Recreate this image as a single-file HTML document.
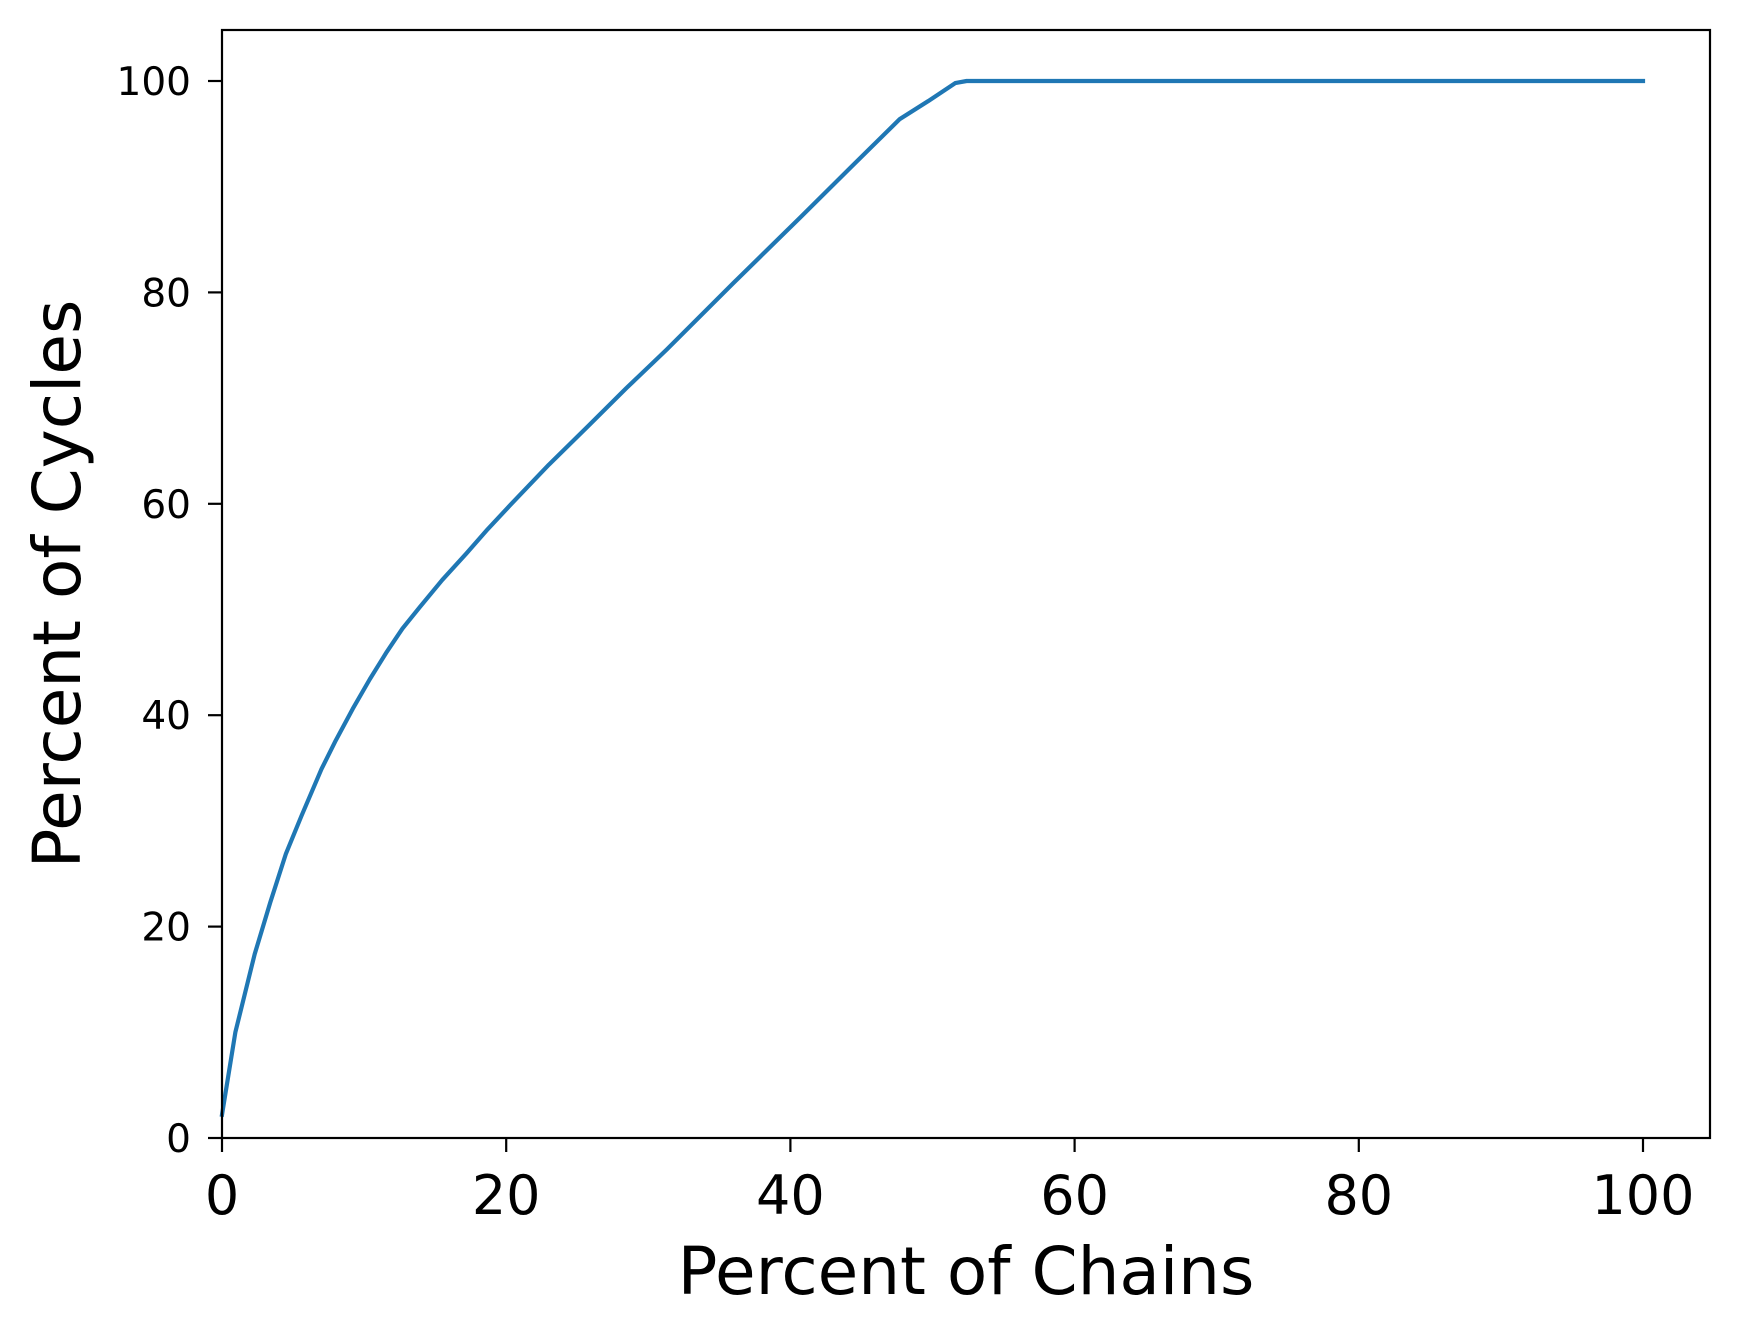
<!DOCTYPE html>
<html><head><meta charset="utf-8"><style>body{margin:0;background:#fff}svg{display:block}</style></head>
<body>
<svg id="chart" width="1739" height="1337" xmlns="http://www.w3.org/2000/svg" font-family="'DejaVu Sans','Liberation Sans',sans-serif">
<rect width="1739" height="1337" fill="#fff"/>
<g id="axes"></g>
</svg>
<script>
const xValues=[0,0.94,2.3,3.4,4.5,5.6,7,8,9.2,10.4,11.6,12.7,13.9,15.5,17.2,18.7,20.3,23,25.8,28.5,31.3,36,40.7,44.3,47.7,49.7,51.6,52.4,100];
const yValues=[2.2,10,17.4,22.3,26.9,30.5,34.9,37.6,40.6,43.4,46.0,48.2,50.2,52.8,55.3,57.6,59.9,63.7,67.4,71,74.6,80.9,87.1,91.9,96.4,98.1,99.8,100,100];
const xTicks=[0,20,40,60,80,100];
const yTicks=[0,20,40,60,80,100];
const L=222,R=1710,T=30,B=1138;
const sx=v=>222+v*14.21;
const sy=v=>1138-v*10.57;
const NS='http://www.w3.org/2000/svg';
const g=document.getElementById('axes');
function mk(t,a){const e=document.createElementNS(NS,t);for(const k in a)e.setAttribute(k,a[k]);g.appendChild(e);return e;}
const line=mk('polyline',{points:xValues.map((x,i)=>sx(x)+','+sy(yValues[i])).join(' '),fill:'none',stroke:'#1f77b4','stroke-width':4.2,'stroke-linejoin':'round','stroke-linecap':'square'});


const frame=mk('rect',{x:L,y:T,width:R-L,height:B-T,fill:'none',stroke:'#000','stroke-width':2.2});


xTicks.forEach(v=>{
  const tk=mk('line',{x1:sx(v),x2:sx(v),y1:B,y2:B+14,stroke:'#000','stroke-width':2.2});
  
  
  const t=mk('text',{x:sx(v),y:B+76,'text-anchor':'middle','font-size':54});
  t.textContent=v;
  
  
});
yTicks.forEach(v=>{
  const tk=mk('line',{x1:L-14,x2:L,y1:sy(v),y2:sy(v),stroke:'#000','stroke-width':2.2});
  
  
  const t=mk('text',{x:L-31,y:sy(v)+14,'text-anchor':'end','font-size':39});
  t.textContent=v;
  
  
});
const xl=mk('text',{x:966,y:1294,'text-anchor':'middle','font-size':66});
xl.textContent='Percent of Chains';


const yl=mk('text',{x:0,y:0,'text-anchor':'middle','font-size':66,transform:'translate(80,584) rotate(-90)'});
yl.textContent='Percent of Cycles';


</script>
</body></html>
